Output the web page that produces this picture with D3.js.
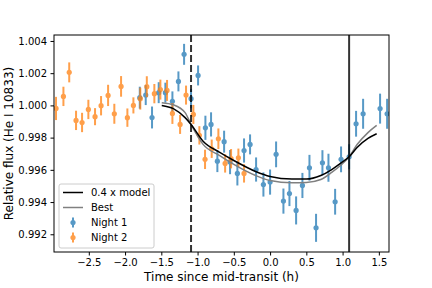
<!DOCTYPE html>
<html>
<head>
<meta charset="utf-8">
<script src="https://cdn.jsdelivr.net/npm/d3@7"></script>
<style>
  body { margin: 0; background: #fff; }
  text { font-family: "DejaVu Sans", sans-serif; fill: #000; }
</style>
</head>
<body>
<div id="chart"></div>
<script>
// data
var night1Time = [-1.797, -1.715, -1.628, -1.536, -1.444, -1.347, -1.264, -1.186, -1.09, -0.993,
  -0.892, -0.814, -0.727, -0.634, -0.552, -0.451, -0.359, -0.276, -0.193, -0.092,
  0.0, 0.083, 0.184, 0.267, 0.359, 0.446, 0.543, 0.634, 0.722, 0.805,
  0.897, 0.979, 1.09, 1.186, 1.283, 1.517, 1.614];
var night1Flux = [1.00048, 1.00064, 0.99925, 1.00079, 1.00079, 1.00025, 1.00149, 1.00317, 1.00042, 1.00186,
  0.99861, 0.99882, 0.99654, 0.99775, 0.99648, 0.99578, 0.99720, 0.99758, 0.99602, 0.99509,
  0.99524, 0.99696, 0.99406, 0.99453, 0.99348, 0.99503, 0.99613, 0.99240, 0.99644, 0.99613,
  0.99402, 0.99665, 0.99681, 0.99886, 0.99948, 0.99980, 0.99948];
var night1Err = [0.00068, 0.00062, 0.00068, 0.00065, 0.00062, 0.00062, 0.00062, 0.00065, 0.00060, 0.00062,
  0.00075, 0.00075, 0.00068, 0.00068, 0.00075, 0.00075, 0.00075, 0.00062, 0.00075, 0.00075,
  0.00078, 0.00080, 0.00078, 0.00078, 0.00087, 0.00078, 0.00080, 0.00087, 0.00078, 0.00087,
  0.00080, 0.00080, 0.00078, 0.00080, 0.00093, 0.00093, 0.00093];

var night2Time = [-2.952, -2.85, -2.77, -2.676, -2.593, -2.506, -2.414, -2.331, -2.234, -2.148,
  -2.055, -1.968, -1.885, -1.79, -1.70, -1.596, -1.513, -1.421, -1.347, -1.241,
  -1.159, -1.058, -0.975, -0.897, -0.805, -0.713, -0.62, -0.538, -0.437, -0.359];
var night2Flux = [0.99981, 1.00056, 1.00205, 0.99907, 0.99894, 0.99975, 0.99930, 0.99998, 1.00062, 0.99948,
  1.00118, 0.99924, 1.00000, 1.00042, 1.00116, 1.00073, 1.00098, 1.00093, 0.99950, 0.99882,
  1.00064, 0.99944, 0.99814, 0.99665, 0.99731, 0.99793, 0.99640, 0.99669, 0.99675, 0.99578];
var night2Err = [0.00072, 0.00060, 0.00062, 0.00060, 0.00060, 0.00060, 0.00053, 0.00060, 0.00066, 0.00062,
  0.00064, 0.00057, 0.00050, 0.00068, 0.00065, 0.00060, 0.00062, 0.00065, 0.00065, 0.00059,
  0.00059, 0.00059, 0.00057, 0.00060, 0.00057, 0.00064, 0.00057, 0.00060, 0.00057, 0.00057];

var modelTime = [-1.494, -1.334, -1.172, -1.09, -0.924, -0.7, -0.5, -0.2, 0.0, 0.3, 0.5, 0.7, 0.85, 0.97, 1.09, 1.2, 1.35, 1.47];
var scaledModel = [1.00000, 0.99980, 0.99924, 0.99882, 0.99778, 0.99710, 0.99658, 0.99590, 0.99559, 0.99543,
  0.99543, 0.99565, 0.99602, 0.99640, 0.99681, 0.99739, 0.99795, 0.99824];
var bestModel = [1.00017, 1.00004, 0.99955, 0.99882, 0.99758, 0.99690, 0.99634, 0.99565, 0.99534, 0.99520,
  0.99522, 0.99540, 0.99584, 0.99627, 0.99681, 0.99757, 0.99831, 0.99876];

var ingress = -1.09;
var egress = 1.09;

var xTicks = [-2.5, -2.0, -1.5, -1.0, -0.5, 0.0, 0.5, 1.0, 1.5];
var yTicks = [0.992, 0.994, 0.996, 0.998, 1.000, 1.002, 1.004];

(function() {
var width = 432, height = 288;
var plotLeft = 54, plotRight = 389, plotTop = 35, plotBottom = 252;

var svg = d3.select("#chart").append("svg")
  .attr("width", width)
  .attr("height", height);

var xScale = d3.scaleLinear().domain([-2.98, 1.64]).range([plotLeft, plotRight]);
var yScale = d3.scaleLinear().domain([0.99090, 1.00437]).range([plotBottom, plotTop]);

var blue = "#1f77b4", orange = "#ff7f0e";

// clip so nothing spills past the axes box
svg.append("clipPath").attr("id", "plotclip")
  .append("rect")
  .attr("x", plotLeft).attr("y", plotTop)
  .attr("width", plotRight - plotLeft).attr("height", plotBottom - plotTop);

var plot = svg.append("g").attr("clip-path", "url(#plotclip)");

// error bars for one night
function drawNight(times, flux, err, color) {
  var rows = times.map(function(t, i) { return { t: t, f: flux[i], e: err[i] }; });
  var g = plot.append("g").attr("opacity", 0.75);
  g.selectAll("line").data(rows).enter().append("line")
    .attr("x1", function(d) { return xScale(d.t); })
    .attr("x2", function(d) { return xScale(d.t); })
    .attr("y1", function(d) { return yScale(d.f - d.e); })
    .attr("y2", function(d) { return yScale(d.f + d.e); })
    .attr("stroke", color)
    .attr("stroke-width", 2);
  g.selectAll("circle").data(rows).enter().append("circle")
    .attr("cx", function(d) { return xScale(d.t); })
    .attr("cy", function(d) { return yScale(d.f); })
    .attr("r", 2.6)
    .attr("fill", color);
}
drawNight(night1Time, night1Flux, night1Err, blue);
drawNight(night2Time, night2Flux, night2Err, orange);

// model curves
function modelLine(values) {
  return d3.line()
    .x(function(d, i) { return xScale(modelTime[i]); })
    .y(function(d) { return yScale(d); })
    .curve(d3.curveMonotoneX)(values);
}
plot.append("path")
  .attr("d", modelLine(bestModel))
  .attr("fill", "none")
  .attr("stroke", "#808080")
  .attr("stroke-width", 1.5);
plot.append("path")
  .attr("d", modelLine(scaledModel))
  .attr("fill", "none")
  .attr("stroke", "#000")
  .attr("stroke-width", 1.5);

// ingress / egress markers
plot.append("line")
  .attr("x1", xScale(ingress)).attr("x2", xScale(ingress))
  .attr("y1", plotTop).attr("y2", plotBottom)
  .attr("stroke", "#000").attr("stroke-opacity", 0.8)
  .attr("stroke-width", 2)
  .attr("stroke-dasharray", "7,3");
plot.append("line")
  .attr("x1", xScale(egress)).attr("x2", xScale(egress))
  .attr("y1", plotTop).attr("y2", plotBottom)
  .attr("stroke", "#000").attr("stroke-opacity", 0.8)
  .attr("stroke-width", 2);

// axes
var xAxis = d3.axisBottom(xScale).tickValues(xTicks).tickFormat(d3.format(".1f"))
  .tickSize(3.5).tickPadding(3.5);
var yAxis = d3.axisLeft(yScale).tickValues(yTicks).tickFormat(d3.format(".3f"))
  .tickSize(3.5).tickPadding(3.5);

svg.append("g")
  .attr("transform", "translate(0," + plotBottom + ")")
  .call(xAxis)
  .call(function(g) { g.select(".domain").remove(); })
  .selectAll("text").attr("font-size", 10).attr("font-family", "DejaVu Sans");
svg.append("g")
  .attr("transform", "translate(" + plotLeft + ",0)")
  .call(yAxis)
  .call(function(g) { g.select(".domain").remove(); })
  .selectAll("text").attr("font-size", 10).attr("font-family", "DejaVu Sans");

svg.append("rect")
  .attr("x", plotLeft).attr("y", plotTop)
  .attr("width", plotRight - plotLeft).attr("height", plotBottom - plotTop)
  .attr("fill", "none").attr("stroke", "#000").attr("stroke-width", 1);

// axis labels
svg.append("text")
  .attr("x", (plotLeft + plotRight) / 2)
  .attr("y", 281)
  .attr("text-anchor", "middle")
  .attr("font-size", 12)
  .text("Time since mid-transit (h)");
svg.append("text")
  .attr("transform", "translate(13," + (plotTop + plotBottom) / 2 + ") rotate(-90)")
  .attr("text-anchor", "middle")
  .attr("font-size", 12)
  .text("Relative flux (He I 10833)");

// legend
var legend = svg.append("g").attr("transform", "translate(59,184)");
legend.append("rect")
  .attr("width", 95).attr("height", 64)
  .attr("rx", 2)
  .attr("fill", "#fff").attr("fill-opacity", 0.8)
  .attr("stroke", "#ccc");
var entries = [
  { label: "0.4 x model", kind: "line", color: "#000" },
  { label: "Best", kind: "line", color: "#808080" },
  { label: "Night 1", kind: "err", color: blue },
  { label: "Night 2", kind: "err", color: orange }
];
entries.forEach(function(e, i) {
  var y = 8.5 + i * 15;
  if (e.kind === "line") {
    legend.append("line")
      .attr("x1", 4).attr("x2", 24).attr("y1", y).attr("y2", y)
      .attr("stroke", e.color).attr("stroke-width", 1.5);
  } else {
    var h = legend.append("g").attr("opacity", 0.75);
    h.append("line")
      .attr("x1", 14).attr("x2", 14).attr("y1", y - 5).attr("y2", y + 5)
      .attr("stroke", e.color).attr("stroke-width", 2);
    h.append("circle").attr("cx", 14).attr("cy", y).attr("r", 2.6).attr("fill", e.color);
  }
  legend.append("text")
    .attr("x", 32).attr("y", y)
    .attr("dy", "0.35em")
    .attr("font-size", 10)
    .text(e.label);
});
})();
</script>
</body>
</html>
